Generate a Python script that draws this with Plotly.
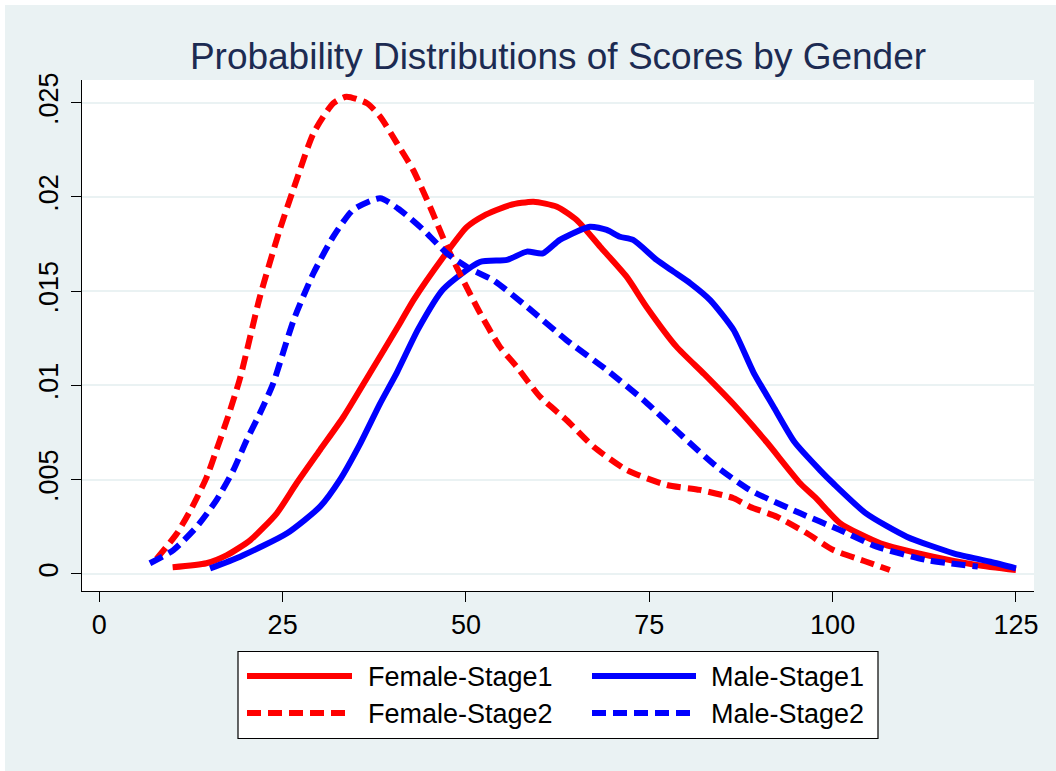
import plotly.graph_objects as go

# ---------------- data ----------------
f1_x = [10, 14.6, 17.4, 20.6, 24.2, 26.9, 30.1, 33.3, 36.9, 41.0, 42.8, 46.9, 50.1, 52.4, 56.0,
        59.2, 62.4, 65.1, 68.3, 71.9, 74.6, 78.7, 82.5, 86.5, 91.0, 95.6, 97.8, 101.0, 106.5,
        113.7, 119.6, 125]
f1_y = [.00036, .00057, .0010, .0018, .00322, .00481, .00658, .00834, .01065, .0133, .0145, .0168,
        .0184, .0190, .01957, .01975, .01948, .01878, .01736, .01577, .01418, .01206, .0106, .0090,
        .0070, .0048, .0040, .0027, .00163, .00092, .00048, .00021]

m1_x = [15.1, 19.2, 25.6, 30.1, 32.8, 35.6, 38.3, 40.6, 43.5, 46.9, 51.9, 55.6, 58.3, 60.5, 62.8,
        66.9, 69.2, 71.0, 72.8, 76.0, 78.3, 80.6, 83.3, 86.5, 89.2, 91.9, 94.8, 98.3, 100.1, 104.6,
        110.1, 116.5, 121.5, 125]
m1_y = [.0003, .00092, .00216, .00357, .00499, .00693, .00905, .0107, .0130, .0151, .01655, .01666,
        .0171, .01701, .01772, .01842, .01825, .01789, .01772, .01666, .01604, .01542, .01453,
        .01294, .0107, .0089, .0070, .0055, .0048, .0032, .00198, .0011, .00065, .0003]

f2_x = [7.8, 10.6, 12.8, 14.6, 16.0, 17.6, 19.2, 21.9, 24.6, 26.9, 29.2, 31.9, 33.7, 36.5, 38.3,
        40.6, 42.8, 45.1, 47.4, 49.6, 51.7, 54.6, 56.9, 60.1, 63.7, 67.4, 71.9, 77.4, 81.9, 86.5,
        88.7, 92.4, 96.5, 100.1, 104.6, 107.8]
f2_y = [.0008, .00216, .00365, .0051, .0066, .0084, .0104, .0147, .01825, .0209, .02338, .02497,
        .02532, .02497, .02426, .02284, .02143, .01948, .01736, .01559, .0140, .01206, .0110, .0094,
        .00817, .00675, .00552, .00472, .00446, .00402, .00357, .00304, .00216, .00127, .00065,
        .00021]

m2_x = [6.9, 10.1, 13.3, 16.0, 18.3, 20.1, 21.9, 23.7, 26.5, 29.2, 31.9, 34.6, 38.3, 41.0, 44.2,
        47.4, 50.5, 53.7, 58.3, 63.7, 69.2, 74.2, 79.6, 84.2, 88.7, 95.6, 101.0, 106.0, 112.8, 119.8]
m2_y = [.00057, .00127, .00251, .00393, .00552, .00711, .00852, .0101, .01347, .01595, .01789,
        .01931, .01993, .01931, .01825, .01701, .0162, .01559, .01418, .01241, .01082, .00923,
        .00728, .00569, .00446, .00322, .00233, .00145, .00074, .00039]

x_ticks = [0, 25, 50, 75, 100, 125]
y_ticks = [0, .005, .01, .015, .02, .025]
y_ticktext = ["0", ".005", ".01", ".015", ".02", ".025"]

series_names = ["Female-Stage1", "Male-Stage1", "Female-Stage2", "Male-Stage2"]
title_text = "Probability Distributions of Scores by Gender"

# ---------------- styling ----------------
RED = "#FF0000"
BLUE = "#0000FF"
BG = "#EAF2F3"
NAVY = "#1C2B52"
FONT = "Liberation Sans, Arial, sans-serif"
DASH = "14px,7px"
LW = 6

W, H = 1056, 771
L, R, T, B = 82, 1034, 80, 591  # plot area in pixels
PW, PH = R - L, B - T


def px(xpix):
    return (xpix - L) / PW


def py(ypix):
    return (B - ypix) / PH


series = [
    (series_names[0], f1_x, f1_y, RED, "solid"),
    (series_names[1], m1_x, m1_y, BLUE, "solid"),
    (series_names[2], f2_x, f2_y, RED, DASH),
    (series_names[3], m2_x, m2_y, BLUE, DASH),
]

fig = go.Figure()
for name, xs, ys, col, dash in series:
    fig.add_trace(go.Scatter(
        x=xs, y=ys, name=name, mode="lines",
        line=dict(color=col, width=LW, dash=dash, shape="spline", smoothing=0.6),
        showlegend=False, hoverinfo="skip",
    ))

shapes = [
    # thin white border at the top and left edges of the image
    dict(type="rect", xref="paper", yref="paper",
         x0=px(-2), x1=px(W + 2), y0=py(5), y1=py(-2),
         fillcolor="white", line=dict(width=0), layer="below"),
    dict(type="rect", xref="paper", yref="paper",
         x0=px(-2), x1=px(5), y0=py(H + 2), y1=py(-2),
         fillcolor="white", line=dict(width=0), layer="below"),
    # legend frame
    dict(type="rect", xref="paper", yref="paper",
         x0=px(238), x1=px(878), y0=py(738.5), y1=py(651.5),
         fillcolor="white", line=dict(color="black", width=1.2), layer="above"),
]

annotations = []
legend_pos = [  # (line x0, line x1, row y, text x)
    (247, 352, 676, 366),
    (592, 696, 676, 709),
    (247, 352, 713, 366),
    (592, 696, 713, 709),
]
for (name, xs, ys, col, dash), (lx0, lx1, ly, tx) in zip(series, legend_pos):
    shapes.append(dict(type="line", xref="paper", yref="paper",
                       x0=px(lx0), x1=px(lx1), y0=py(ly), y1=py(ly),
                       line=dict(color=col, width=LW, dash=dash), layer="above"))
    annotations.append(dict(xref="paper", yref="paper", x=px(tx), y=py(ly + 1),
                            text=name, showarrow=False, xanchor="left", yanchor="middle",
                            font=dict(family=FONT, size=27, color="black")))

fig.update_layout(
    width=W, height=H,
    margin=dict(l=L, r=W - R, t=T, b=H - B, pad=0),
    paper_bgcolor=BG,
    plot_bgcolor="white",
    title=dict(text=title_text, x=0.5, xref="paper", xanchor="center",
               y=1 - 56 / H, yref="container", yanchor="middle",
               font=dict(family=FONT, size=37, color=NAVY)),
    shapes=shapes,
    annotations=annotations,
    showlegend=False,
    hovermode=False,
)

fig.update_xaxes(
    range=[-2.36, 127.46], tickvals=x_ticks, ticks="outside", ticklen=10, tickwidth=1.3,
    tickcolor="black", showline=True, linecolor="black", linewidth=1.3,
    showgrid=False, zeroline=False, ticklabelstandoff=-1,
    tickfont=dict(family=FONT, size=27, color="black"),
)
fig.update_yaxes(
    range=[-0.000902, 0.026203], tickvals=y_ticks, ticktext=y_ticktext, tickangle=-90,
    ticks="outside", ticklen=10, tickwidth=1.3, tickcolor="black",
    showline=True, linecolor="black", linewidth=1.3,
    showgrid=True, gridcolor=BG, gridwidth=2, zeroline=False,
    ticklabelstandoff=2,
    tickfont=dict(family=FONT, size=27, color="black"),
)

fig.write_html(
    "out.html",
    config={"displayModeBar": False},
    post_script="document.body.style.margin='0';document.body.style.padding='0';",
)
